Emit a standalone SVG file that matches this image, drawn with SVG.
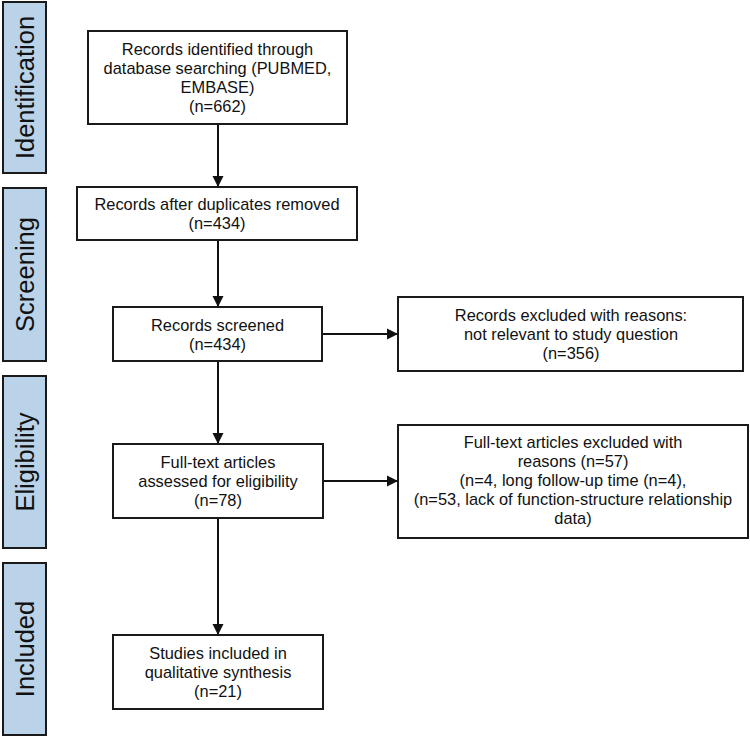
<svg xmlns="http://www.w3.org/2000/svg" width="750" height="737" viewBox="0 0 750 737">
  <style>
    .bar { fill: #bad3e8; stroke: #1a1a1a; stroke-width: 2; }
    .box { fill: #ffffff; stroke: #1a1a1a; stroke-width: 2; }
    .t { font-family: "Liberation Sans", Arial, Helvetica, sans-serif; font-size: 16.4px; fill: #111; text-anchor: middle; }
    .st { font-family: "Liberation Sans", Arial, Helvetica, sans-serif; font-size: 25.5px; fill: #111; text-anchor: middle; }
    .conn { stroke: #111; stroke-width: 2; fill: none; marker-end: url(#ah); }
  </style>
  <defs>
    <marker id="ah" markerUnits="userSpaceOnUse" markerWidth="12" markerHeight="12" viewBox="0 0 12 12" refX="11" refY="6" orient="auto">
      <path d="M0,0.5 L11,6 L0,11.5 Z" fill="#111"/>
    </marker>
  </defs>
  <rect width="750" height="737" fill="#ffffff"/>

  <g id="stage-identification">
    <rect class="bar" x="3" y="2" width="43" height="171"/>
    <text class="st" transform="translate(33.5,87.5) rotate(-90)">Identification</text>
  </g>
  <g id="stage-screening">
    <rect class="bar" x="3" y="188" width="43" height="173"/>
    <text class="st" transform="translate(33.5,274.5) rotate(-90)">Screening</text>
  </g>
  <g id="stage-eligibility">
    <rect class="bar" x="3" y="376" width="43" height="172"/>
    <text class="st" transform="translate(33.5,462) rotate(-90)">Eligibility</text>
  </g>
  <g id="stage-included">
    <rect class="bar" x="3" y="563" width="43" height="172"/>
    <text class="st" transform="translate(33.5,649) rotate(-90)">Included</text>
  </g>

  <g id="connectors">
    <line class="conn" x1="218" y1="124" x2="218" y2="187"/>
    <line class="conn" x1="218" y1="240" x2="218" y2="307"/>
    <line class="conn" x1="322" y1="334" x2="398" y2="334"/>
    <line class="conn" x1="218" y1="361" x2="218" y2="444"/>
    <line class="conn" x1="323" y1="481" x2="398" y2="481"/>
    <line class="conn" x1="218" y1="518" x2="218" y2="635"/>
  </g>

  <g id="identified">
    <rect class="box" x="88" y="31" width="259" height="93"/>
    <text class="t" x="217.5" y="54.5">Records identified through</text>
    <text class="t" x="217.5" y="73.5">database searching (PUBMED,</text>
    <text class="t" x="217.5" y="92.5">EMBASE)</text>
    <text class="t" x="217.5" y="111.5">(n=662)</text>
  </g>
  <g id="deduplicated">
    <rect class="box" x="77" y="187" width="280" height="53"/>
    <text class="t" x="217" y="209.5">Records after duplicates removed</text>
    <text class="t" x="217" y="228.5">(n=434)</text>
  </g>
  <g id="screened">
    <rect class="box" x="113" y="307" width="209" height="54"/>
    <text class="t" x="217.5" y="330.5">Records screened</text>
    <text class="t" x="217.5" y="349.5">(n=434)</text>
  </g>
  <g id="excluded-records">
    <rect class="box" x="398" y="297" width="345" height="74"/>
    <text class="t" x="571" y="320.5">Records excluded with reasons:</text>
    <text class="t" x="571" y="339.5">not relevant to study question</text>
    <text class="t" x="571" y="358.5">(n=356)</text>
  </g>
  <g id="fulltext">
    <rect class="box" x="113" y="444" width="210" height="74"/>
    <text class="t" x="218" y="467.5">Full-text articles</text>
    <text class="t" x="218" y="486.5">assessed for eligibility</text>
    <text class="t" x="218" y="505.5">(n=78)</text>
  </g>
  <g id="excluded-fulltext">
    <rect class="box" x="398" y="425" width="350" height="113"/>
    <text class="t" x="573" y="448">Full-text articles excluded with</text>
    <text class="t" x="573" y="467">reasons (n=57)</text>
    <text class="t" x="573" y="486">(n=4, long follow-up time (n=4),</text>
    <text class="t" x="573" y="505">(n=53, lack of function-structure relationship</text>
    <text class="t" x="573" y="524">data)</text>
  </g>
  <g id="included">
    <rect class="box" x="113" y="635" width="210" height="74"/>
    <text class="t" x="218" y="658.5">Studies included in</text>
    <text class="t" x="218" y="677.5">qualitative synthesis</text>
    <text class="t" x="218" y="696.5">(n=21)</text>
  </g>
</svg>
